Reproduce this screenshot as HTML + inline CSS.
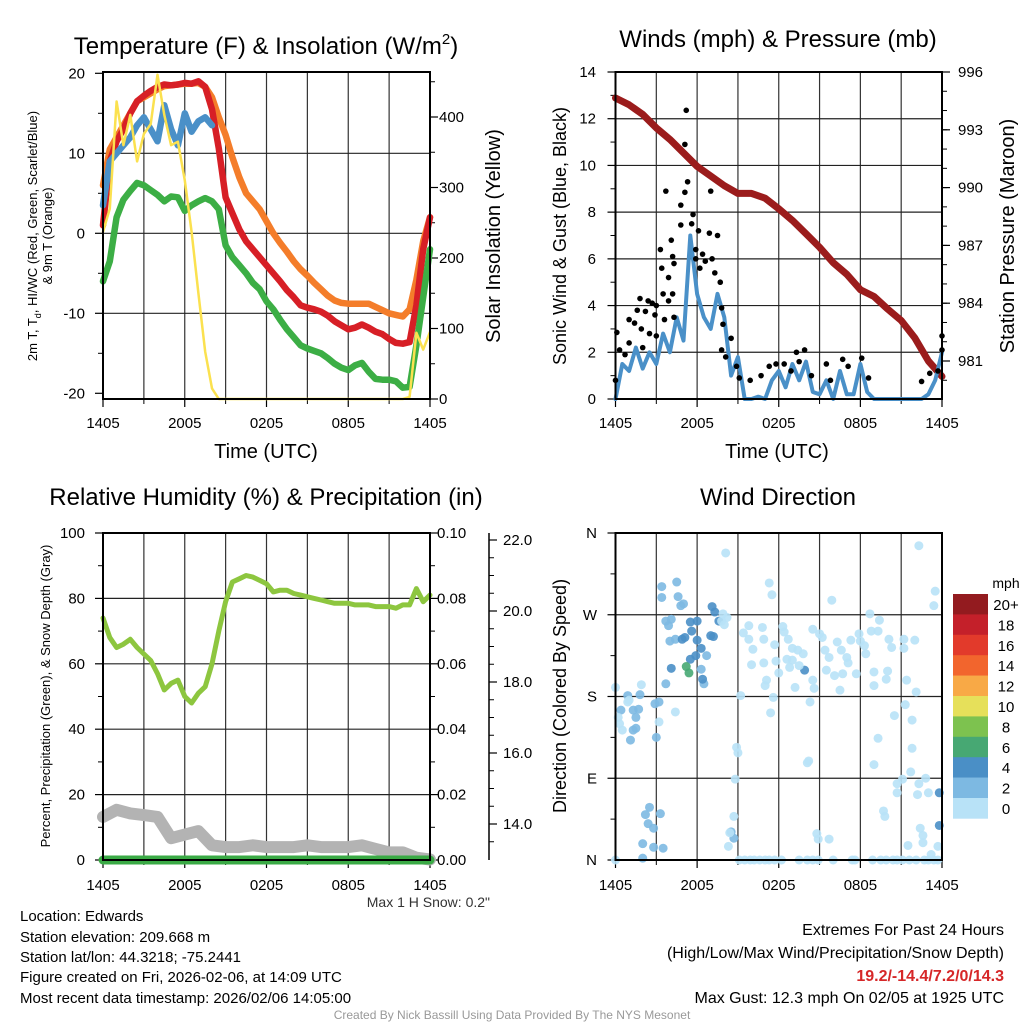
<!DOCTYPE html>
<html><head><meta charset="utf-8">
<style>
html,body{margin:0;padding:0;background:#fff;}
svg{display:block;font-family:"Liberation Sans",Arial,sans-serif;}
</style></head>
<body>
<svg id="chart" width="1024" height="1024" viewBox="0 0 1024 1024">
<rect width="1024" height="1024" fill="#fff"/>
<text x="266" y="54" font-size="24" text-anchor="middle">Temperature (F) &amp; Insolation (W/m<tspan dy="-10" font-size="15">2</tspan><tspan dy="10">)</tspan></text>
<text x="778" y="47" font-size="24" text-anchor="middle">Winds (mph) &amp; Pressure (mb)</text>
<text x="266" y="505" font-size="24" text-anchor="middle">Relative Humidity (%) &amp; Precipitation (in)</text>
<text x="778" y="505" font-size="24" text-anchor="middle">Wind Direction</text>
<text x="266" y="458" font-size="20" text-anchor="middle">Time (UTC)</text>
<text x="777" y="458" font-size="20" text-anchor="middle">Time (UTC)</text>
<text transform="translate(37,236) rotate(-90)" font-size="13" text-anchor="middle">2m T, T<tspan dy="4" font-size="9">d</tspan><tspan dy="-4">, HI/WC (Red, Green, Scarlet/Blue)</tspan></text>
<text transform="translate(52,236) rotate(-90)" font-size="13" text-anchor="middle">&amp; 9m T (Orange)</text>
<text transform="translate(500,236) rotate(-90)" font-size="20" text-anchor="middle">Solar Insolation (Yellow)</text>
<text transform="translate(566,236) rotate(-90)" font-size="18" text-anchor="middle">Sonic Wind &amp; Gust (Blue, Black)</text>
<text transform="translate(1014,236) rotate(-90)" font-size="20" text-anchor="middle">Station Pressure (Maroon)</text>
<text transform="translate(50,696) rotate(-90)" font-size="13" text-anchor="middle">Percent, Precipitation (Green), &amp; Snow Depth (Gray)</text>
<text transform="translate(566,696) rotate(-90)" font-size="18" text-anchor="middle">Direction (Colored By Speed)</text>
<text x="490" y="907" font-size="14" text-anchor="end" fill="#333">Max 1 H Snow: 0.2"</text>
<g font-size="15">
<text x="20" y="921">Location: Edwards</text>
<text x="20" y="942">Station elevation: 209.668 m</text>
<text x="20" y="962">Station lat/lon: 44.3218; -75.2441</text>
<text x="20" y="982">Figure created on Fri, 2026-02-06, at 14:09 UTC</text>
<text x="20" y="1003">Most recent data timestamp: 2026/02/06 14:05:00</text>
</g>
<g font-size="16" text-anchor="end">
<text x="1004" y="935">Extremes For Past 24 Hours</text>
<text x="1004" y="958">(High/Low/Max Wind/Precipitation/Snow Depth)</text>
<text x="1004" y="981" fill="#d62728" font-weight="bold">19.2/-14.4/7.2/0/14.3</text>
<text x="1004" y="1003">Max Gust: 12.3 mph On 02/05 at 1925 UTC</text>
</g>
<text x="512" y="1019" font-size="12" fill="#999" text-anchor="middle">Created By Nick Bassill Using Data Provided By The NYS Mesonet</text>
</svg>
<script>
// ---------- data ----------
const timeLabels = ["1405","2005","0205","0805","1405"];
const tempRed = [1,9,11.5,13,15,16.5,17.2,17.8,18.3,18.6,18.5,18.6,18.8,18.7,19,18.3,15.5,10.6,4.5,2.5,0.5,-1,-2,-3,-4,-5,-6,-7.1,-8,-9,-9.3,-9.5,-9.8,-10.3,-11,-11.5,-12,-11.8,-11.4,-11.8,-12.3,-12.6,-13.2,-13.7,-13.8,-13.6,-9,-2,2];
const tempOrange = [6,10.5,12,13.5,15,16.5,17,17.5,18,18.4,18.5,18.6,18.7,18.7,18.8,18.3,17,14.5,12.3,9.5,7,5,4,3,1.5,0,-1.2,-2.3,-3.5,-4.5,-5.3,-6.2,-7,-7.8,-8.4,-8.7,-8.8,-8.8,-8.8,-8.8,-9.2,-9.6,-10,-10.2,-10.4,-9.5,-5.8,-1,2];
const tempGreen = [-6,-3.5,2,4.2,5.3,6.3,6,5.4,4.8,4,4.6,4.5,2.8,3.5,4,4.4,4,3,-1.5,-3,-4,-5,-6.2,-7,-8.5,-9.5,-10.8,-12,-13,-14,-14.4,-14.7,-15,-15.6,-16.3,-16.8,-17.1,-16.5,-16.2,-17.3,-18.2,-18.3,-18.3,-18.5,-19.3,-19.2,-14,-8,-2];
const tempBlue = [3.5,9,10,11,12,13.5,14.5,13,11.5,16,13,11,15,12.7,14,14.5,13.5];
const solar = [237,270,422,360,403,337,376,390,460,403,360,365,310,237,150,67,15,0,0,0,0,0,0,0,0,0,0,0,0,0,0,0,0,0,0,0,0,0,0,0,0,0,0,0,0,3,94,70,95];
const tempTicks = [-20,-10,0,10,20];
const solarTicks = [0,100,200,300,400];
const pressure = [994.65,994.3,993.8,993.1,992.5,991.8,991.1,990.6,990.1,989.7,989.7,989.45,988.9,988.3,987.6,986.9,986.1,985.5,984.7,984.35,983.7,983.1,982.2,981.0,980.2];
const windSpeed = [0,1.5,1.2,2.2,1.3,2.0,1.5,2.8,2.0,3.5,2.5,7.0,4.5,3.5,3.0,4.5,3.5,1.0,1.8,0,0,0.1,0,0.8,1.2,0.5,1.5,0.8,1.6,0.3,0.2,0.8,0,1.2,0.2,0.2,1.5,0.3,0,0,0,0,0,0,0,0,0.2,0.8,2];
const gustHours = [5.2,5.1,5.3,5.1,3.7,7.0,4.8,5.7,4.8,5.6,6.1,6.9,7.5,3.3,4.1,4.2,4.3,5.9,5.9,6.4,7.1,3.4,3.9,6.2,6.6,7.3,7.7,3.5,4.2,3.9,1.8,2.4,2.7,3.0,2.2,1.6,2.9,3.6,4.3,1.0,1.4,1.9,2.5,3.0,0.1,7.8,7.9,8.5,7.8,8.1,1.0,0.3,0.7,0,2.0,8.9,9.1,9.9,10.7,11.3,11.8,12.4,12.9,13.3,13.9,13.5,14.4,15.5,15.8,16.7,17.1,18.1,18.6,22.5,23.1,23.7,24.0,24.0];
const gustSpeeds = [12.36,10.9,9.3,8.85,8.9,8.9,8.3,7.9,7.45,7.5,7.2,7.1,7.0,6.4,6.8,6.1,5.8,6.4,6.0,6.2,6.0,5.6,5.2,5.6,5.9,5.4,5.0,4.5,4.5,4.2,4.3,4.2,4.1,4.0,3.75,3.8,3.6,3.4,3.5,3.4,3.25,3.0,2.8,2.7,2.85,3.9,3.2,2.6,2.1,1.8,2.4,2.1,1.9,0.8,2.2,1.4,0.9,0.8,1.0,1.4,1.5,1.5,1.2,2.0,2.1,1.6,1.0,1.5,0.8,1.7,1.4,1.75,0.9,0.75,1.1,1.2,2.1,2.7];
const windTicks = [0,2,4,6,8,10,12,14];
const pressureTicks = [981,984,987,990,993,996];
const humidity = [74,68,65,66,67.5,65,63,61,57,52,54,55,50,48,51,53,60,70,79,85,86,87,86.5,85.5,84.5,82,82.5,82.5,81.5,81,80.5,80,79.5,79,78.5,78.5,78.5,78,78,78,77.5,77.5,77.5,77,78,78,83,79,81];
const precip = [0,0,0,0,0,0,0,0,0,0,0,0,0,0,0,0,0,0,0,0,0,0,0,0,0];
const snowDepth = [14.2,14.4,14.3,14.25,14.2,13.6,13.7,13.8,13.4,13.35,13.35,13.4,13.35,13.35,13.35,13.4,13.35,13.35,13.35,13.4,13.3,13.2,13.2,13.05,13.0];
const rhTicks = [0,20,40,60,80,100];
const precipTickLabels = ["0.00","0.02","0.04","0.06","0.08","0.10"];
const snowTicks = [14,16,18,20,22];
const dirHours = [3.4,4.5,3.4,4.6,4.8,5.0,3.7,4.1,3.9,4.0,4.4,3.7,0.4,0.9,1.8,1.3,1.7,1.5,1.3,1.1,1.5,2.9,3.2,3.0,2.5,2.2,3.3,2.4,2.8,2.0,2.8,3.5,2.0,8.5,8.7,6.7,6.3,6.5,
5.5,6.0,5.6,6.0,5.1,4.9,7.1,7.3,7.6,7.0,7.2,6.3,5.9,5.5,4.1,6.4,13.9,23.8,23.8,5.2,5.4,
8.1,11.3,11.5,15.9,22.3,23.5,23.4,18.7,19.4,18.8,19.3,9.4,9.8,10.8,9.8,10.9,12.3,12.4,12.7,14.5,15.0,15.2,16.3,17.3,17.9,18.0,18.3,20.1,21.2,22.0,11.7,10.1,13.0,13.4,13.8,15.4,15.7,16.6,17.0,18.4,20.3,21.2,10.0,10.9,11.8,12.6,13.0,12.8,13.5,14.5,15.5,16.1,16.7,17.1,17.7,19.0,20.0,19.9,21.4,22.1,11.1,11.0,12.0,13.2,14.6,16.5,19.0,9.2,11.6,11.4,14.3,20.5,21.3,21.8,19.3,21.8,8.9,9.0,8.8,14.2,14.1,19.0,21.7,20.7,21.1,22.3,22.8,20.7,22.2,23.0,19.7,19.8,8.7,8.4,8.3,14.8,14.9,15.7,22.4,22.6,22.6,21.5,23.7,23.2,0.0,1.9,0.9,1.0,0.2,0.3,0.5,4.4,3.2,0,7.9,8.2,7.8,8.0,
9.1,9.5,9.9,10.2,10.6,11.0,11.3,11.7,12.2,13.5,14.1,14.5,14.9,16.0,17.4,17.6,18.9,19.5,19.9,20.4,20.7,21.1,21.6,22.1,22.7,23.0,23.4,23.7];
const dirDegrees = [301,306,289,290,280,282,263,265,258,241,243,194,165,181,182,165,166,157,143,132,145,172,174,135,58,50,51,40,35,18,14,13,2,31,24,225,210,194,
262,263,252,242,245,243,279,273,263,247,246,233,225,221,211,199,209,74,38,213,206,
338,305,292,286,346,296,280,271,264,252,252,250,243,256,258,243,257,251,243,254,249,245,240,242,249,241,236,243,243,242,237,232,233,231,227,231,223,231,223,227,234,233,215,217,219,221,220,212,214,198,209,203,205,217,205,207,208,199,198,185,198,192,206,190,189,187,192,181,179,162,174,159,171,154,134,123,124,118,89,109,107,105,97,84,89,84,90,74,72,74,54,48,48,30,15,29,23,23,35,27,19,16,15,6,190,193,174,176,157,150,143,163,152,0,271,267,263,259,
0,0,0,0,0,0,0,0,0,0,0,0,0,0,0,0,0,0,0,0,0,0,0,0,0,0,0,0];
const dirSpeeds = [3,3,3,3,3,3,3,3,3,3,3,3,3,3,3,3,3,3,3,3,3,3,3,3,3,3,3,3,3,3,3,3,3,3,3,3,3,3,
5,5,5,5,5,5,5,5,5,5,5,5,5,5,5,5,5,5,5,7,7,
1,1,1,1,1,1,1,1,1,1,1,1,1,1,1,1,1,1,1,1,1,1,1,1,1,1,1,1,1,1,1,1,1,1,1,1,1,1,1,1,1,1,1,1,1,1,1,1,1,1,1,1,1,1,1,1,1,1,1,1,1,1,1,1,1,1,1,1,1,1,1,1,1,1,1,1,1,1,1,1,1,1,1,1,1,1,1,1,1,1,1,1,1,1,1,1,1,1,1,1,1,1,1,1,1,1,1,1,1,1,1,1,1,1,1,1,1,1,1,1,
1,1,1,1,1,1,1,1,1,1,1,1,1,1,1,1,1,1,1,1,1,1,1,1,1,1,1,1];
const dirTickLabels = ["N","E","S","W","N"];
const speedBinLabels = ["0","2","4","6","8","10","12","14","16","18","20+"];
const speedBinColors = ["#b8e2f7","#7db9e2","#4a8fc6","#47a873","#7dc24f","#e6e05a","#f8a946","#f2652d","#e23a2b","#c4202a","#931b1f"];

// ---------- helpers ----------
const NS = "http://www.w3.org/2000/svg";
const svg = document.getElementById("chart");
function mk(tag, attrs, parent) {
  const el = document.createElementNS(NS, tag);
  for (const k in attrs) el.setAttribute(k, attrs[k]);
  (parent || svg).appendChild(el);
  return el;
}
function pathFrom(xs, ys) {
  let d = "";
  for (let i = 0; i < xs.length; i++) d += (i ? "L" : "M") + xs[i].toFixed(1) + "," + ys[i].toFixed(1);
  return d;
}
function timeScale(x0, x1) { return h => x0 + h / 24 * (x1 - x0); }
function linScale(d0, d1, r0, r1) { return v => r0 + (v - d0) / (d1 - d0) * (r1 - r0); }
function seriesPath(vals, step, sx, sy, color, width, name, parent) {
  const xs = vals.map((v, i) => sx(i * step));
  const ys = vals.map(v => sy(v));
  const p = mk("path", {d: pathFrom(xs, ys), fill: "none", stroke: color, "stroke-width": width, "stroke-linejoin": "round", "stroke-linecap": "round"}, parent);
  
  
  return p;
}
function vgrid(sx, top, bot, parent) {
  for (let h = 0; h <= 24; h += 3) {
    const l = mk("line", {x1: sx(h), x2: sx(h), y1: top, y2: bot, stroke: "#333", "stroke-width": 1.2}, parent);
    
    
  }
}
function hgrid(y, x0, x1, parent) {
  const l = mk("line", {x1: x0, x2: x1, y1: y, y2: y, stroke: "#222", "stroke-width": 1.2}, parent);
  
  
}
function xAxisLabels(sx, bot, ly, parent) {
  for (let i = 0; i < timeLabels.length; i++) {
    const h = i * 6;
    const t = mk("text", {x: sx(h), y: ly, "font-size": 15, "text-anchor": "middle"}, parent);
    t.textContent = timeLabels[i];
    
    
    const tk = mk("line", {x1: sx(h), x2: sx(h), y1: bot, y2: bot + 8, stroke: "#000", "stroke-width": 1.2}, parent);
    
    
  }
  for (let h = 3; h < 24; h += 6) {
    const tk = mk("line", {x1: sx(h), x2: sx(h), y1: bot, y2: bot + 5, stroke: "#000", "stroke-width": 1}, parent);
    
    
  }
}
function yLabel(x, y, txt, anchor, parent, size) {
  const t = mk("text", {x: x, y: y + 5, "font-size": size || 15, "text-anchor": anchor}, parent);
  t.textContent = txt;
  
  
}
function tick(x1, x2, y, parent, w) {
  const l = mk("line", {x1: x1, x2: x2, y1: y, y2: y, stroke: "#000", "stroke-width": w || 1.2}, parent);
  
  
}
function frame(x0, y0, x1, y1, name, parent) {
  const r = mk("rect", {x: x0, y: y0, width: x1 - x0, height: y1 - y0, fill: "none", stroke: "#000", "stroke-width": 2}, parent);
  
  
}

// ---------- Panel 1: temperature ----------
(function(){
  const g = mk("g", {});
  
  
  const X0 = 103, X1 = 430, T = 72, B = 399;
  const sx = timeScale(X0, X1);
  const sy = linScale(0, 20, 233.3, 73.3);
  const sw = linScale(0, 400, 399, 117);
  vgrid(sx, T, B, g);
  [-10, 0, 10].forEach(v => hgrid(sy(v), X0, X1, g));
  tempTicks.forEach(v => { tick(X0 - 8, X0, sy(v), g); yLabel(85, sy(v), String(v), "end", g); });
  [-15, -5, 5, 15].forEach(v => tick(X0 - 5, X0, sy(v), g, 1));
  solarTicks.forEach(v => { tick(X1, X1 + 8, sw(v), g); yLabel(439, sw(v), String(v), "start", g); });
  [50, 150, 250, 350, 450].forEach(v => tick(X1, X1 + 5, sw(v), g, 1));
  xAxisLabels(sx, B, 428, g);
  seriesPath(tempOrange, 0.5, sx, sy, "#f47d2a", 6.5, "series-9m-temperature", g);
  seriesPath(tempRed, 0.5, sx, sy, "#d71f26", 6.5, "series-2m-temperature", g);
  seriesPath(tempGreen, 0.5, sx, sy, "#3cae45", 6.5, "series-dewpoint", g);
  seriesPath(tempBlue, 0.5, sx, sy, "#4a90c8", 6.5, "series-wind-chill", g);
  seriesPath(solar, 0.5, sx, sw, "#fbe14f", 2.5, "series-solar-insolation", g);
  frame(X0, T, X1, B, "temperature-plot-frame", g);
})();

// ---------- Panel 2: winds ----------
(function(){
  const g = mk("g", {});
  
  
  const X0 = 615.5, X1 = 942, T = 72, B = 399;
  const sx = timeScale(X0, X1);
  const sv = linScale(0, 14, 399, 72);
  const sp = linScale(996, 981, 72, 361);
  vgrid(sx, T, B, g);
  [2,4,6,8,10,12].forEach(v => hgrid(sv(v), X0, X1, g));
  windTicks.forEach(v => { tick(X0 - 8, X0, sv(v), g); yLabel(596, sv(v), String(v), "end", g); });
  [1,3,5,7,9,11,13].forEach(v => tick(X0 - 5, X0, sv(v), g, 1));
  pressureTicks.forEach(v => { tick(X1, X1 + 8, sp(v), g); yLabel(958, sp(v), String(v), "start", g); });
  for (let p = 980; p <= 996; p++) tick(X1, X1 + 5, sp(p), g, 1);
  xAxisLabels(sx, B, 428, g);
  seriesPath(pressure, 1, sx, sp, "#9b1c1c", 7, "series-station-pressure", g);
  seriesPath(windSpeed, 0.5, sx, sv, "#4a90c8", 4, "series-sonic-wind", g);
  for (let i = 0; i < gustHours.length; i++) {
    const c = mk("circle", {cx: sx(gustHours[i]), cy: sv(gustSpeeds[i]), r: 2.8, fill: "#000"}, g);
    
    
  }
  frame(X0, T, X1, B, "winds-plot-frame", g);
})();

// ---------- Panel 3: humidity ----------
(function(){
  const g = mk("g", {});
  
  
  const X0 = 103, X1 = 430, T = 533, B = 860;
  const sx = timeScale(X0, X1);
  const sy = linScale(0, 100, 860, 533);
  const spr = linScale(0, 0.1, 860, 533);
  const ss = linScale(14, 22, 824, 540);
  vgrid(sx, T, B, g);
  [20,40,60,80].forEach(v => hgrid(sy(v), X0, X1, g));
  rhTicks.forEach(v => { tick(X0 - 8, X0, sy(v), g); yLabel(85, sy(v), String(v), "end", g); });
  [10,30,50,70,90].forEach(v => tick(X0 - 5, X0, sy(v), g, 1));
  precipTickLabels.forEach((lab, i) => { const v = i * 0.02; tick(X1, X1 + 8, spr(v), g); yLabel(437, spr(v), lab, "start", g); });
  for (let i = 1; i < 10; i += 2) tick(X1, X1 + 5, spr(i * 0.01), g, 1);
  const ax = mk("line", {x1: 489, x2: 489, y1: 533, y2: 860, stroke: "#000", "stroke-width": 1.5}, g);
  
  
  snowTicks.forEach(v => { tick(489, 497, ss(v), g); yLabel(503, ss(v), v.toFixed(1), "start", g); });
  for (let v = 13.5; v < 22.3; v += 0.5) tick(489, 494, ss(v), g, 1);
  xAxisLabels(sx, B, 890, g);
  seriesPath(snowDepth, 1, sx, ss, "#b3b3b3", 12, "series-snow-depth", g);
  seriesPath(precip, 1, sx, spr, "#3aaa45", 9, "series-precipitation", g);
  seriesPath(humidity, 0.5, sx, sy, "#8dc63f", 5, "series-relative-humidity", g);
  frame(X0, T, X1, B, "humidity-plot-frame", g);
})();

// ---------- Panel 4: wind direction ----------
(function(){
  const g = mk("g", {});
  
  
  const X0 = 615.5, X1 = 942, T = 533, B = 860;
  const sx = timeScale(X0, X1);
  const sd = linScale(0, 360, 860, 533);
  vgrid(sx, T, B, g);
  [90,180,270].forEach(v => hgrid(sd(v), X0, X1, g));
  dirTickLabels.forEach((lab, i) => { const v = i * 90; tick(X0 - 8, X0, sd(v), g); yLabel(597, sd(v), lab, "end", g); });
  [45,135,225,315].forEach(v => tick(X0 - 5, X0, sd(v), g, 1));
  xAxisLabels(sx, B, 890, g);
  for (let i = 0; i < dirHours.length; i++) {
    const bin = Math.min(10, Math.floor(dirSpeeds[i] / 2));
    const c = mk("circle", {cx: sx(dirHours[i]), cy: sd(dirDegrees[i]), r: 4.5, fill: speedBinColors[bin], "fill-opacity": 0.9}, g);
    
    
  }
  frame(X0, T, X1, B, "direction-plot-frame", g);
  const cb = mk("g", {}, g);
  
  
  const top = 594, bh = 20.4;
  const mph = mk("text", {x: 1006, y: 588, "font-size": 14, "text-anchor": "middle"}, cb);
  mph.textContent = "mph";
  
  
  for (let i = 0; i < speedBinColors.length; i++) {
    const k = speedBinColors.length - 1 - i;
    const r = mk("rect", {x: 953, y: top + i * bh, width: 35, height: bh + 0.3, fill: speedBinColors[k]}, cb);
    
    
    const t = mk("text", {x: 1006, y: top + i * bh + 16, "font-size": 15, "text-anchor": "middle"}, cb);
    t.textContent = speedBinLabels[k];
    
    
  }
})();
</script>
</body></html>
